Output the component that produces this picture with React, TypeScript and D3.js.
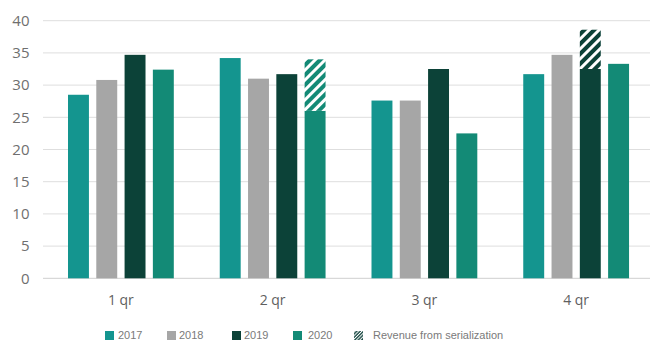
import React from "react";
import * as d3 from "d3";

const categories = ["1 qr", "2 qr", "3 qr", "4 qr"];
const years = ["2017", "2018", "2019", "2020"];
const s2017 = [28.5, 34.2, 27.6, 31.7];
const s2018 = [30.8, 31.0, 27.6, 34.7];
const s2019 = [34.7, 31.7, 32.5, 32.5];
const s2020 = [32.4, 26.0, 22.5, 33.3];
const serial2019 = [0, 0, 0, 6.1];
const serial2020 = [0, 8.0, 0, 0];
const yTicks = [0, 5, 10, 15, 20, 25, 30, 35, 40];
const legendLabels = ["2017", "2018", "2019", "2020", "Revenue from serialization"];

const colors: Record<string, string> = {
  "2017": "#14958f",
  "2018": "#a6a6a6",
  "2019": "#0c4238",
  "2020": "#138a76",
};

const seriesValues: Record<string, number[]> = { "2017": s2017, "2018": s2018, "2019": s2019, "2020": s2020 };
const serialValues: Record<string, number[]> = { "2019": serial2019, "2020": serial2020 };

export default function App() {
  const W = 654, H = 342;
  const left = 43, right = 650, top = 20.7, bottom = 278.3;
  const y = d3.scaleLinear().domain([0, 40]).range([bottom, top]);
  const x0 = d3.scaleBand<string>().domain(categories).range([left, right]);
  const x1 = d3.scaleBand<string>().domain(years).range([25, 130.8]).paddingInner(0.26);
  const labelFont = "'Open Sans', sans-serif";
  const legendFont = "'Liberation Sans', Arial, sans-serif";

  const legendX = [105, 167, 232, 293, 354];
  const legendTextX = [118, 179, 244, 308, 373];
  const legendY = 335.5;

  return (
    <svg width={W} height={H} style={{ position: "absolute", left: 0, top: 0, background: "#fff" }}>
      <defs>
        <pattern id="hatch2020" patternUnits="userSpaceOnUse" width={7} height={7} patternTransform="rotate(45)">
          <rect width={7} height={7} fill={colors["2020"]} />
          <rect width={3} height={7} fill="#fff" />
        </pattern>
        <pattern id="hatch2019" patternUnits="userSpaceOnUse" width={7} height={7} patternTransform="rotate(45)">
          <rect width={7} height={7} fill={colors["2019"]} />
          <rect width={3} height={7} fill="#fff" />
        </pattern>
        <pattern id="hatchLegend" patternUnits="userSpaceOnUse" width={2.4} height={2.4} patternTransform="rotate(45)">
          <rect width={2.4} height={2.4} fill="#1a4a44" />
          <rect width={1} height={2.4} fill="#fff" />
        </pattern>
      </defs>
      {yTicks.map((t) => (
        <g key={t}>
          <line x1={left} x2={right} y1={y(t)} y2={y(t)} stroke={t === 0 ? "#cfcfcf" : "#dedede"} strokeWidth={1} />
          <text x={29.5} y={y(t)} dy="0.35em" textAnchor="end" fontFamily={labelFont} fontSize={15} fill="#6f6f6f">
            {t}
          </text>
        </g>
      ))}
      {categories.map((c, i) => (
        <g key={c} transform={`translate(${x0(c)},0)`}>
          {years.map((yr) => {
            const v = seriesValues[yr][i];
            const s = serialValues[yr] ? serialValues[yr][i] : 0;
            const bx = x1(yr)!;
            const bw = x1.bandwidth();
            return (
              <g key={yr}>
                <rect x={bx} y={y(v)} width={bw} height={y(0) - y(v)} fill={colors[yr]} />
                {s > 0 && (
                  <rect x={bx} y={y(v + s)} width={bw} height={y(v) - y(v + s)} fill={`url(#hatch${yr})`} />
                )}
              </g>
            );
          })}
          <text
            x={x0.bandwidth() / 2 + 2}
            y={300}
            dy="0.35em"
            textAnchor="middle"
            fontFamily={labelFont}
            fontSize={14}
            fill="#5f5f5f"
          >
            {c}
          </text>
        </g>
      ))}
      {legendLabels.map((l, i) => (
        <g key={l}>
          <rect
            x={legendX[i]}
            y={legendY - 4.5}
            width={9}
            height={9}
            fill={i < 4 ? colors[years[i]] : "url(#hatchLegend)"}
          />
          <text x={legendTextX[i]} y={legendY} dy="0.35em" fontFamily={legendFont} fontSize={11} fill="#7a7a7a">
            {l}
          </text>
        </g>
      ))}
    </svg>
  );
}
